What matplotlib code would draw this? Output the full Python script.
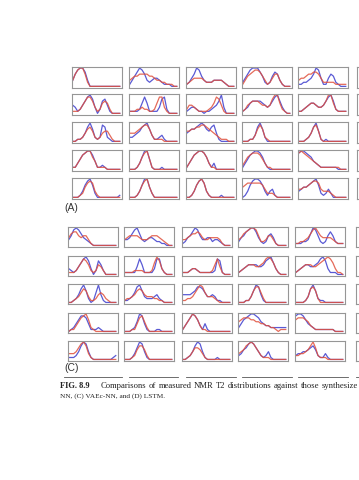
import numpy as np
import matplotlib
matplotlib.use("Agg")
import matplotlib.pyplot as plt

# each curve is read off the scan as 20 heights (0 = baseline, 9 = top of box)
# rows of 5 panels, left to right, top to bottom
a_blue = [
    "36899730000000000000", "13579863234432111000", "12469853222333321000", "24689997521257631000", "11223469841146521000",
    "43124689730267410000", "11112585111137820000", "12332110112346930000", "12356666543468963100", "11234554334689621111",
    "00112479621287210000", "22345789631123100000", "45667898657841000000", "00011379620000000000", "00012479510100000000",
    "11357899741121000000", "00013699510001000000", "13578998631300000000", "13578998631000000000", "89987643211111110000",
    "00013689620000000001", "00013699520000000000", "00136897310000100000", "01368998631341000000", "34556789621242000000",
]
a_red = [
    "36899620000000000000", "34556666554332211100", "12344443222333321000", "13567887531246631000", "34456677642222211111",
    "11124688631256520000", "11122322112588310000", "24432111123587410000", "12456665443479952100", "11234554334699521111",
    "00112467521245531000", "44456788631111000000", "55667788765432111000", "00011368621000000000", "00012478510000000000",
    "11357899641111000000", "00013689510000000000", "13578998631100000000", "24678887531100000000", "89876543211111111000",
    "00012578731000000000", "00013689520000000000", "00136897310000000000", "56777777642221000000", "44556788743332100000",
]
c_blue = [
    "35898643210000000000", "33468963234432211000", "12457985334423321000", "24578997421256410000", "11122369852125752111",
    "32124689730275200000", "11111485111138831000", "11123321111112871000", "12345555445789631000", "12345544568973111000",
    "00124796201594100000", "11235896322234210000", "44445688753343110000", "00011369841000000000", "00001379621100000000",
    "01246887411121000000", "00012598410001100000", "13579863141000000000", "24678998754332222222", "89986432111111110000",
    "11124798410000000012", "00013698410000000000", "00124798410000100000", "23568986421241000000", "23344567521131000000",
]
c_red = [
    "46775455310000000000", "34555543334555432100", "33456676433444431000", "34678998522355310000", "11223468975444432111",
    "11124687521254200000", "11112222111269731000", "11123321111125841000", "12345554456898631000", "12345554456789863110",
    "00123576311245421000", "12234676433322110000", "11223579853332100000", "00011368852000000000", "00001378620000000000",
    "01135789621000000000", "00011478520000000000", "13579863110000000000", "56777665544332210111", "67776532111111110000",
    "33346897310000000000", "00012577520000000000", "00124665310000000000", "34578986421110000000", "22334579621110000000",
]

panel_labels = ["(A)", "(C)"]
caption_bold = "FIG. 8.9"
caption_line1 = "Comparisons of measured NMR T2 distributions against those synthesize"
caption_line2 = "NN, (C) VAEc-NN, and (D) LSTM."

W, H = 359, 480
BLUE = "#4848d0"
RED = "#e0503c"
FRAME = "#969696"


def to_heights(s):
    v = [int(ch) for ch in s]
    v = v + [0] * (20 - len(v))
    return np.array(v[:20], dtype=float)


def px_axes(fig, x, y, w, h):
    # place an axes using pixel coords measured from the top-left corner
    return fig.add_axes([x / W, 1 - (y + h) / H, w / W, h / H])


def style_box(ax):
    ax.set_xticks([])
    ax.set_yticks([])
    for sp in ax.spines.values():
        sp.set_color(FRAME)
        sp.set_linewidth(0.8)
    ax.set_xlim(-0.3, 19.9)
    ax.set_ylim(-0.8, 9.5)


def draw_panel(fig, blue, red, cols, rows, w, h, stub_x):
    xs = np.arange(20)
    for r, y in enumerate(rows):
        for c, x in enumerate(cols):
            k = r * 5 + c
            ax = px_axes(fig, x, y, w, h)
            style_box(ax)
            ax.plot(xs, to_heights(blue[k]), color=BLUE, lw=0.9, alpha=0.9)
            ax.plot(xs, to_heights(red[k]), color=RED, lw=0.9, alpha=0.85)
        # sixth column, cut off by the page edge
        stub = px_axes(fig, stub_x, y, w, h)
        style_box(stub)


fig = plt.figure(figsize=(W / 100, H / 100), dpi=100)

draw_panel(fig, a_blue, a_red, [72, 129, 186, 242, 298], [67, 94, 122, 150, 178], 50, 21, 357)
draw_panel(fig, c_blue, c_red, [68, 124, 182, 238, 295], [227, 256, 284, 313, 341], 50, 20, 356)

# page overlay for labels, rules and caption
page = fig.add_axes([0, 0, 1, 1])
page.set_xlim(0, W)
page.set_ylim(H, 0)
page.axis("off")
page.patch.set_alpha(0)

page.text(64, 208, panel_labels[0], fontsize=7.5, color="#333333", family="Liberation Sans", va="center")
page.text(64, 368, panel_labels[1], fontsize=7.5, color="#333333", family="Liberation Sans", va="center")

for x0, x1 in [(64, 122), (129, 178), (186, 236), (242, 292), (298, 348), (356, 362)]:
    page.plot([x0, x1], [376.5, 376.5], color="#555555", lw=0.6)

cap_kw = dict(family="Liberation Serif", va="center", color="#222222")
page.text(60, 386, caption_bold, weight="bold", fontsize=6.0, **cap_kw)
page.text(60, 396, caption_line2, fontsize=5.2, **cap_kw)

# first caption line is justified in the scan: spread the words between x0 and x1
renderer = fig.canvas.get_renderer()
words = caption_line1.split()
x0, x1 = 101, 358
widths = []
for wd in words:
    t = page.text(0, 0, wd, fontsize=6.2, **cap_kw)
    widths.append(t.get_window_extent(renderer).width)
    t.remove()
gap = (x1 - x0 - sum(widths)) / (len(words) - 1)
x = x0
for wd, wpx in zip(words, widths):
    page.text(x, 386, wd, fontsize=6.2, **cap_kw)
    x += wpx + gap

fig.savefig("out.png", dpi=100)
